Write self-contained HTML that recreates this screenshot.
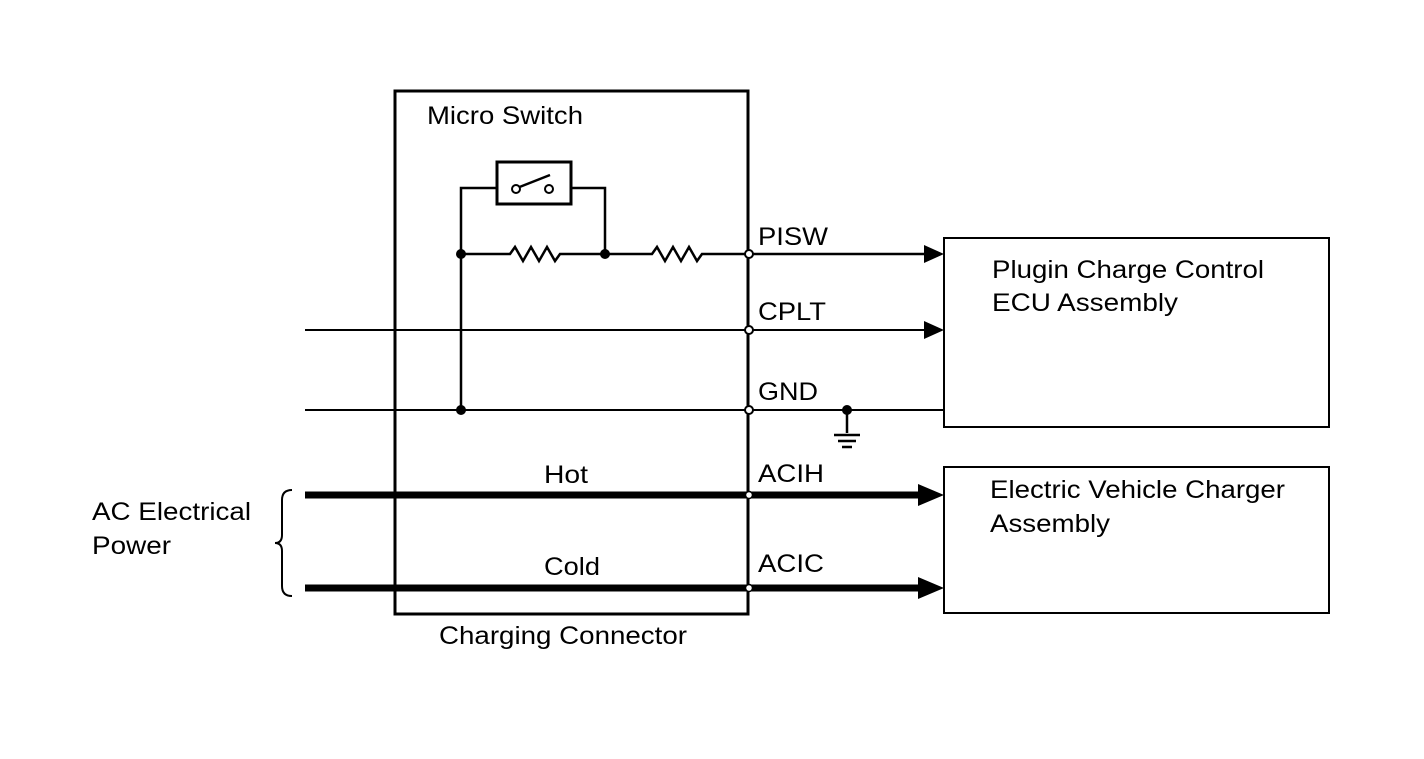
<!DOCTYPE html>
<html><head><style>body{margin:0;background:#fff}svg{display:block}text{font-family:"Liberation Sans",sans-serif;font-size:25px;fill:#000}</style></head>
<body>
<svg width="1424" height="759" viewBox="0 0 1424 759" xmlns="http://www.w3.org/2000/svg">
<g fill="none" stroke="#000">
<rect x="395" y="91" width="353" height="523" stroke-width="3"/>
<rect x="944" y="238" width="385" height="189" stroke-width="2"/>
<rect x="944" y="467" width="385" height="146" stroke-width="2"/>
<rect x="497" y="162" width="74" height="42" stroke-width="3"/>
<path d="M461 410V188H497M571 188H605V254" stroke-width="2.5"/>
<path d="M461 254H510l5 -7 8 14 8 -14 8 14 8 -14 8 14 5 -7H652l5 -7 8 14 8 -14 8 14 8 -14 8 14 5 -7H930" stroke-width="2.5"/>
<path d="M305 330H930M305 410H944" stroke-width="2"/>
<path d="M305 495H920M305 588H920" stroke-width="7"/>
<path d="M517 188L550 175" stroke-width="2.5"/>
<path d="M847 410V433M834 435H860M838 441H856M842 447H852" stroke-width="2.5"/>
<path d="M292 490Q282 490 282 500V535Q282 543 275 543Q282 543 282 551V586Q282 596 292 596" stroke-width="2"/>
</g>
<g fill="#000">
<path d="M924 245L944 254L924 263Z"/><path d="M924 321L944 330L924 339Z"/>
<path d="M918 484L944 495L918 506Z"/><path d="M918 577L944 588L918 599Z"/>
<circle cx="461" cy="254" r="5"/><circle cx="605" cy="254" r="5"/><circle cx="461" cy="410" r="5"/><circle cx="847" cy="410" r="5"/>
</g>
<g fill="#fff" stroke="#000" stroke-width="2">
<circle cx="516" cy="189" r="4"/><circle cx="549" cy="189" r="4"/>
<circle cx="749" cy="254" r="4"/><circle cx="749" cy="330" r="4"/><circle cx="749" cy="410" r="4"/>
<circle cx="749" cy="495" r="3.5" stroke-width="1.5"/><circle cx="749" cy="588" r="3.5" stroke-width="1.5"/>
</g>
<g lengthAdjust="spacingAndGlyphs">
<text x="427" y="124" textLength="156" lengthAdjust="spacingAndGlyphs">Micro Switch</text>
<text x="758" y="245" textLength="70" lengthAdjust="spacingAndGlyphs">PISW</text>
<text x="758" y="320" textLength="68" lengthAdjust="spacingAndGlyphs">CPLT</text>
<text x="758" y="400" textLength="60" lengthAdjust="spacingAndGlyphs">GND</text>
<text x="758" y="482" textLength="66" lengthAdjust="spacingAndGlyphs">ACIH</text>
<text x="758" y="572" textLength="66" lengthAdjust="spacingAndGlyphs">ACIC</text>
<text x="544" y="483" textLength="44" lengthAdjust="spacingAndGlyphs">Hot</text>
<text x="544" y="575" textLength="56" lengthAdjust="spacingAndGlyphs">Cold</text>
<text x="439" y="644" textLength="248" lengthAdjust="spacingAndGlyphs">Charging Connector</text>
<text x="92" y="520" textLength="159" lengthAdjust="spacingAndGlyphs">AC Electrical</text>
<text x="92" y="554" textLength="79" lengthAdjust="spacingAndGlyphs">Power</text>
<text x="992" y="278" textLength="272" lengthAdjust="spacingAndGlyphs">Plugin Charge Control</text>
<text x="992" y="311" textLength="186" lengthAdjust="spacingAndGlyphs">ECU Assembly</text>
<text x="990" y="498" textLength="295" lengthAdjust="spacingAndGlyphs">Electric Vehicle Charger</text>
<text x="990" y="532" textLength="120" lengthAdjust="spacingAndGlyphs">Assembly</text>
</g>
</svg>
</body></html>
